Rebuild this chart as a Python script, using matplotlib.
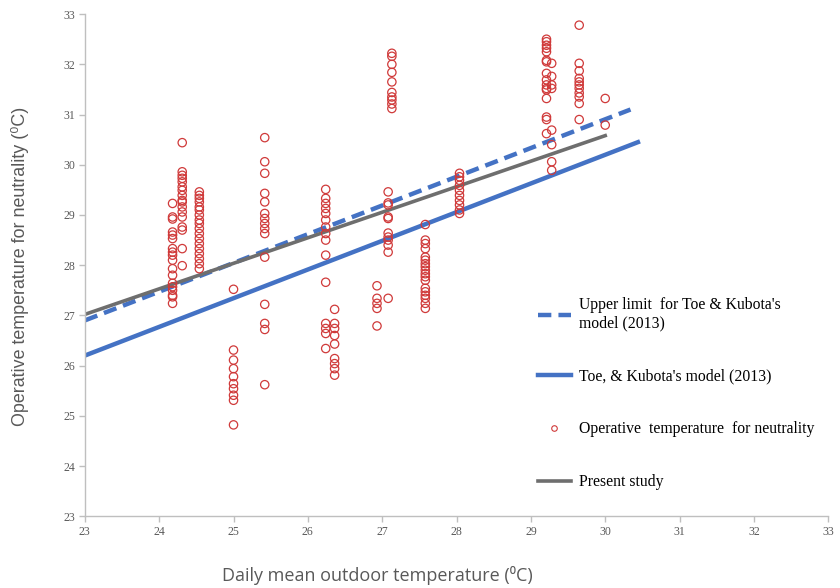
import matplotlib
matplotlib.use("Agg")
import matplotlib.pyplot as plt
from matplotlib.lines import Line2D

# ---- data ----
col_x = [24.18, 24.31, 24.54, 25.0, 25.42, 26.24, 26.36, 26.93, 27.08, 27.13,
         27.58, 28.04, 29.21, 29.28, 29.65, 30.0]
col_y = [
    [29.23, 28.96, 28.92, 28.66, 28.60, 28.53, 28.33, 28.26, 28.2, 28.1, 27.93, 27.80, 27.64, 27.57, 27.50, 27.40, 27.37, 27.24],
    [30.44, 29.86, 29.79, 29.73, 29.66, 29.56, 29.49, 29.39, 29.29, 29.26, 29.16, 29.06, 28.96, 28.76, 28.70, 28.33, 27.99],
    [29.46, 29.39, 29.33, 29.26, 29.16, 29.10, 29.0, 28.9, 28.83, 28.73, 28.63, 28.53, 28.43, 28.33, 28.23, 28.13, 28.03, 27.93],
    [27.52, 26.31, 26.11, 25.94, 25.78, 25.64, 25.54, 25.41, 25.31, 24.82],
    [30.54, 30.06, 29.83, 29.43, 29.26, 29.03, 28.93, 28.83, 28.73, 28.63, 28.16, 27.22, 26.84, 26.72, 25.62],
    [29.51, 29.33, 29.23, 29.13, 29.03, 28.9, 28.76, 28.63, 28.50, 28.2, 27.66, 26.84, 26.74, 26.64, 26.34],
    [27.12, 26.84, 26.74, 26.6, 26.43, 26.14, 26.04, 25.94, 25.81],
    [27.59, 27.34, 27.24, 27.14, 26.79],
    [29.46, 29.24, 29.2, 28.96, 28.93, 28.64, 28.56, 28.5, 28.4, 28.26, 27.34],
    [32.22, 32.16, 32.0, 31.84, 31.65, 31.44, 31.35, 31.29, 31.21, 31.12],
    [28.81, 28.5, 28.43, 28.33, 28.16, 28.10, 28.03, 27.97, 27.90, 27.83, 27.77, 27.70, 27.54, 27.47, 27.40, 27.34, 27.24, 27.14],
    [29.83, 29.76, 29.69, 29.59, 29.49, 29.39, 29.29, 29.2, 29.1, 29.03],
    [32.50, 32.45, 32.38, 32.32, 32.25, 32.08, 32.05, 31.82, 31.69, 31.59, 31.52, 31.49, 31.32, 30.95, 30.9, 30.62],
    [32.02, 31.76, 31.59, 31.52, 30.69, 30.40, 30.06, 29.89],
    [32.78, 32.02, 31.87, 31.72, 31.65, 31.59, 31.52, 31.43, 31.35, 31.22, 30.9],
    [31.32, 30.79],
]

upper_x = [23.0, 30.34]
upper_y = [26.90, 31.10]
toe_x = [23.0, 30.44]
toe_y = [26.20, 30.45]
present_x = [23.0, 30.0]
present_y = [27.02, 30.58]

ticks = list(range(23, 34))

labels = ["Upper limit  for Toe & Kubota's\nmodel (2013)",
          "Toe, & Kubota's model (2013)",
          "Operative  temperature  for neutrality",
          "Present study"]

# ---- figure ----
fig = plt.figure(figsize=(8.4, 5.88), dpi=100)
ax = fig.add_axes([0.101, 0.122, 0.885, 0.854])

blue = "#4472C4"
gray = "#6E6E6E"
red = "#D03A3A"

ax.plot(upper_x, upper_y, color=blue, lw=3.2, ls=(0, (3.0, 1.6)), solid_capstyle="butt", zorder=2)
ax.plot(toe_x, toe_y, color=blue, lw=3.2, zorder=2)
ax.plot(present_x, present_y, color=gray, lw=2.6, zorder=2)

xs, ys = [], []
for x, yl in zip(col_x, col_y):
    for y in yl:
        xs.append(x)
        ys.append(y)
ax.scatter(xs, ys, s=36, facecolors="none", edgecolors=red, linewidths=0.9, zorder=3)

ax.set_xlim(23, 33)
ax.set_ylim(23, 33)
ax.set_xticks(ticks)
ax.set_yticks(ticks)
for s in ["top", "right"]:
    ax.spines[s].set_visible(False)
for s in ["left", "bottom"]:
    ax.spines[s].set_color("#BFBFBF")
    ax.spines[s].set_linewidth(1.0)
ax.tick_params(axis="both", colors="#BFBFBF", length=4, width=1.0, labelcolor="#595959",
               labelsize=8.5, pad=3)
for lab in ax.get_xticklabels() + ax.get_yticklabels():
    lab.set_fontfamily("Liberation Serif")

ax.set_xlabel("Daily mean outdoor temperature (\u2070C)", fontsize=13, color="#595959",
              family=["Open Sans", "DejaVu Sans"], va="center", ha="center")
ax.xaxis.set_label_coords(0.394, -0.1175)
ax.set_ylabel("Operative temperature for neutrality (\u2070C)", fontsize=12.9, color="#595959",
              family=["Liberation Sans", "DejaVu Sans"], va="center", ha="center")
ax.yaxis.set_label_coords(-0.0875, 0.498)

handles = [
    Line2D([], [], color=blue, lw=3.2, ls=(0, (3.0, 1.6))),
    Line2D([], [], color=blue, lw=3.2),
    Line2D([], [], marker="o", ls="none", markersize=4, markerfacecolor="none",
           markeredgecolor=red, markeredgewidth=0.8),
    Line2D([], [], color=gray, lw=2.6),
]
leg = fig.legend(handles, labels, loc="upper left", bbox_to_anchor=(538 / 840, 1 - 297 / 588),
                 frameon=False, prop={"family": "Liberation Serif", "size": 11.3},
                 handlelength=2.1, handletextpad=0.5, labelspacing=2.35, borderpad=0,
                 borderaxespad=0)

fig.savefig("out.png", dpi=100)
